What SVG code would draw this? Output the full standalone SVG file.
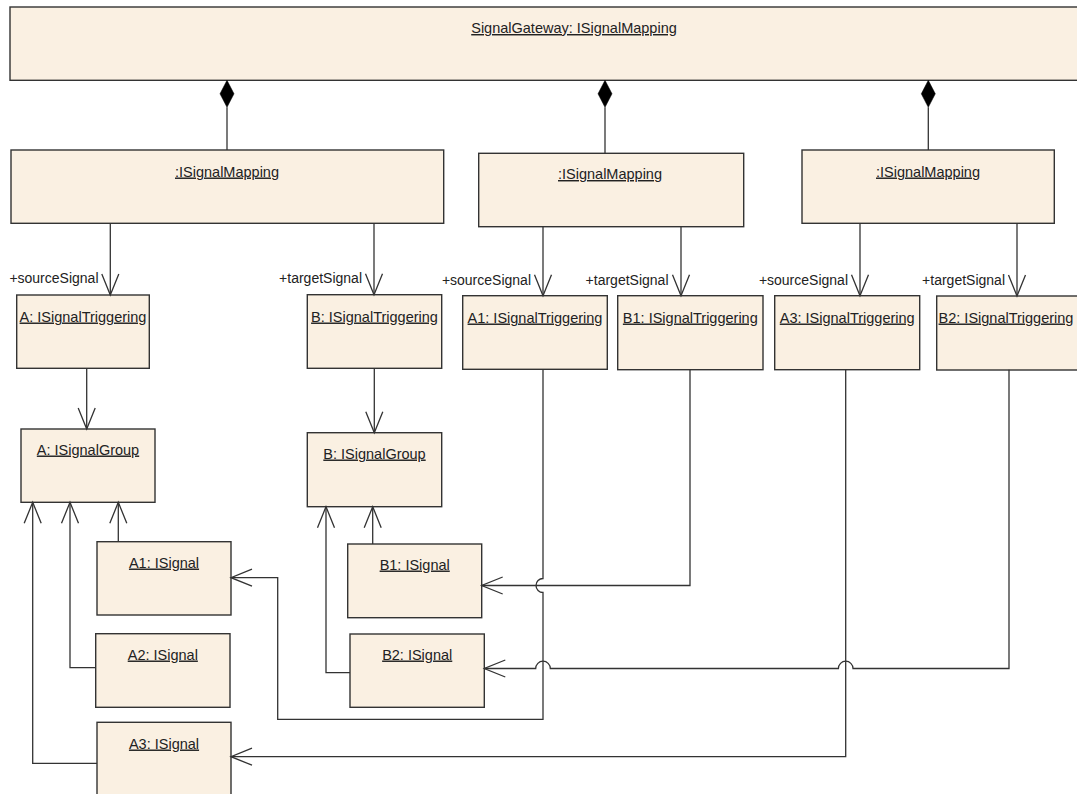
<svg xmlns="http://www.w3.org/2000/svg" width="1077" height="794" viewBox="0 0 1077 794">
<style>
.box{fill:#FAF0E2;stroke:#333;stroke-width:1.4}
.nt{font-family:"Liberation Sans",Arial,sans-serif;font-size:14.5px;fill:#222;text-anchor:middle;text-decoration:underline}
.lb{font-family:"Liberation Sans",Arial,sans-serif;font-size:14px;fill:#222;text-anchor:end}
.ln{fill:none;stroke:#333;stroke-width:1.3}
.dia{fill:#000;stroke:#000;stroke-width:0.5}
</style>
<defs>
<marker id="open" markerUnits="userSpaceOnUse" markerWidth="26" markerHeight="22" viewBox="-23 -11 26 22" refX="0" refY="0" orient="auto">
<path d="M-21,-8.5 L0,0 L-21,8.5" fill="none" stroke="#333" stroke-width="1.3"/>
</marker>
</defs>
<g id="gateway"><rect class="box" x="10" y="7" width="1080" height="73.3"/><text class="nt" x="574" y="33">SignalGateway: ISignalMapping</text></g>
<g id="map1"><rect class="box" x="11" y="150" width="432.7" height="73.3"/><text class="nt" x="227" y="176.5">:ISignalMapping</text></g>
<g id="map2"><rect class="box" x="478.7" y="153.3" width="265" height="73.4"/><text class="nt" x="610" y="179">:ISignalMapping</text></g>
<g id="map3"><rect class="box" x="802" y="150" width="252.3" height="73.3"/><text class="nt" x="928" y="176.5">:ISignalMapping</text></g>
<g id="trigA"><rect class="box" x="16.7" y="295" width="132.6" height="73.3"/><text class="nt" x="83" y="321.5">A: ISignalTriggering</text></g>
<g id="trigB"><rect class="box" x="307.3" y="294.7" width="134.4" height="73.6"/><text class="nt" x="374.5" y="321.5">B: ISignalTriggering</text></g>
<g id="trigA1"><rect class="box" x="462.7" y="295.7" width="144.6" height="73.6"/><text class="nt" x="535" y="322.5">A1: ISignalTriggering</text></g>
<g id="trigB1"><rect class="box" x="617.7" y="295.7" width="145.3" height="74"/><text class="nt" x="690.3" y="322.5">B1: ISignalTriggering</text></g>
<g id="trigA3"><rect class="box" x="774.7" y="295.7" width="145" height="74"/><text class="nt" x="847.2" y="322.5">A3: ISignalTriggering</text></g>
<g id="trigB2"><rect class="box" x="936.7" y="296" width="145.3" height="74"/><text class="nt" x="1006" y="322.5">B2: ISignalTriggering</text></g>
<g id="groupA"><rect class="box" x="21" y="429" width="134" height="73.3"/><text class="nt" x="88" y="454.5">A: ISignalGroup</text></g>
<g id="groupB"><rect class="box" x="307.3" y="432.7" width="134.4" height="74"/><text class="nt" x="374.5" y="458.5">B: ISignalGroup</text></g>
<g id="sigA1"><rect class="box" x="97" y="541.7" width="134" height="73.3"/><text class="nt" x="164" y="567.5">A1: ISignal</text></g>
<g id="sigA2"><rect class="box" x="95.7" y="633.7" width="134.3" height="73.6"/><text class="nt" x="162.8" y="659.5">A2: ISignal</text></g>
<g id="sigA3"><rect class="box" x="97" y="722.3" width="134" height="80"/><text class="nt" x="164" y="748.5">A3: ISignal</text></g>
<g id="sigB1"><rect class="box" x="347.7" y="544" width="134" height="73.7"/><text class="nt" x="414.7" y="569.5">B1: ISignal</text></g>
<g id="sigB2"><rect class="box" x="350" y="634" width="134.3" height="73.3"/><text class="nt" x="417.2" y="659.5">B2: ISignal</text></g>
<g id="connectors">
<polygon class="dia" points="227,80.3 234,93.8 227,107.3 220,93.8"/>
<polygon class="dia" points="605,80.3 612,93.8 605,107.3 598,93.8"/>
<polygon class="dia" points="928.3,80.3 935.3,93.8 928.3,107.3 921.3,93.8"/>
<path class="ln" d="M227,107.3 V150"/>
<path class="ln" d="M605,107.3 V153.3"/>
<path class="ln" d="M928.3,107.3 V150"/>
<path class="ln" marker-end="url(#open)" d="M110.3,223.3 V295"/>
<path class="ln" marker-end="url(#open)" d="M374,223.3 V294.7"/>
<path class="ln" marker-end="url(#open)" d="M543,226.7 V295.7"/>
<path class="ln" marker-end="url(#open)" d="M681,226.7 V295.7"/>
<path class="ln" marker-end="url(#open)" d="M860,223.3 V295.7"/>
<path class="ln" marker-end="url(#open)" d="M1017,223.3 V296"/>
<path class="ln" marker-end="url(#open)" d="M86.7,368.3 V429"/>
<path class="ln" marker-end="url(#open)" d="M374.3,368.3 V432.7"/>
<path class="ln" marker-end="url(#open)" d="M118.3,541.7 V502.3"/>
<path class="ln" marker-end="url(#open)" d="M95.7,667.7 H70 V502.3"/>
<path class="ln" marker-end="url(#open)" d="M97,763.3 H32.7 V502.3"/>
<path class="ln" marker-end="url(#open)" d="M372.7,544 V506.7"/>
<path class="ln" marker-end="url(#open)" d="M350,672.7 H326 V506.7"/>
<path class="ln" marker-end="url(#open)" d="M543,369.3 V578.5 A7,7 0 0 0 543,592.5 V719.3 H277.7 V577.7 H231"/>
<path class="ln" marker-end="url(#open)" d="M690,369.7 V585.5 H481.7"/>
<path class="ln" marker-end="url(#open)" d="M1009,369.7 V668.5 H853 A7.3,7.3 0 0 0 838.4,668.5 H550.3 A7.3,7.3 0 0 0 535.7,668.5 H484.3"/>
<path class="ln" marker-end="url(#open)" d="M845.7,369.7 V756.7 H231"/>
<text class="lb" x="98.5" y="283.3">+sourceSignal</text>
<text class="lb" x="362" y="283.3">+targetSignal</text>
<text class="lb" x="531" y="285">+sourceSignal</text>
<text class="lb" x="668.5" y="285">+targetSignal</text>
<text class="lb" x="848" y="285">+sourceSignal</text>
<text class="lb" x="1005" y="285">+targetSignal</text>
</g>
</svg>
